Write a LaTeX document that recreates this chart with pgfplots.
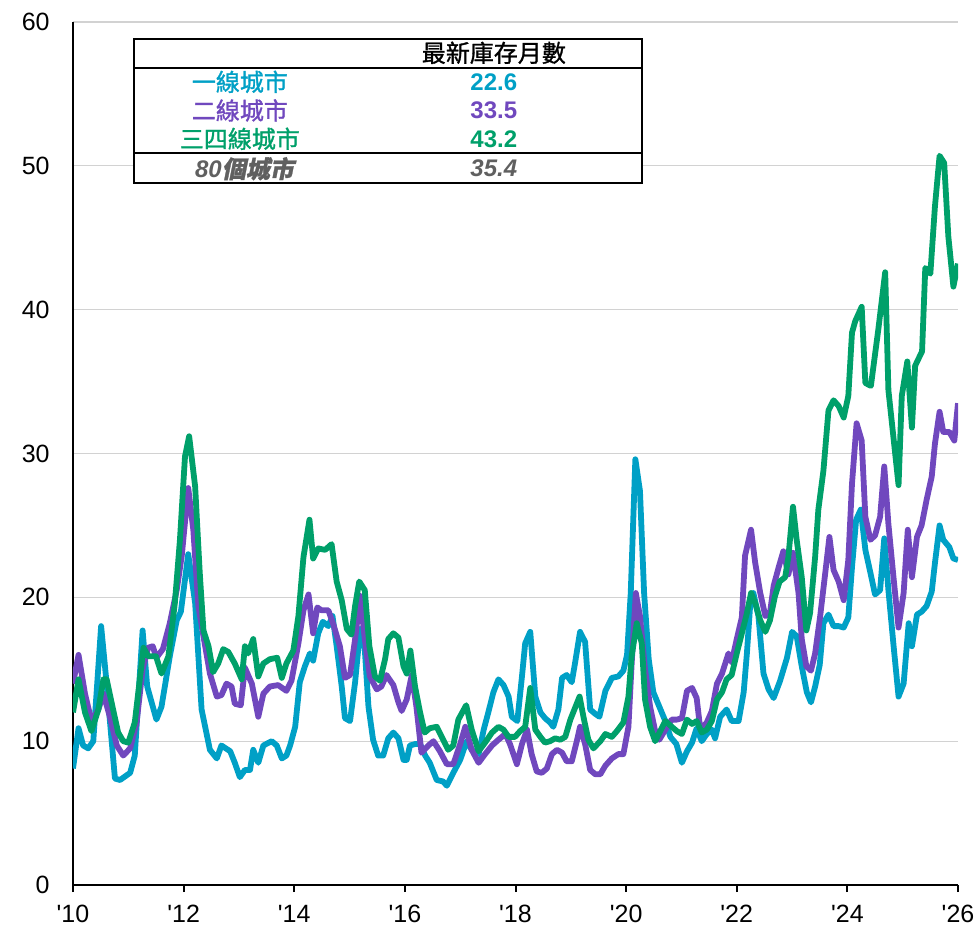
\documentclass[border=0pt]{standalone}
\usepackage{pgfplots}
\pgfplotsset{compat=1.18}
\usepackage{fontspec}
\setmainfont{Liberation Sans}[Ligatures=TeXOff]
\newfontfamily\cjk{Noto Sans CJK TC}[FakeBold=1.2]
\newfontfamily\cjkit{Noto Sans CJK TC}[FakeSlant=0.2, FakeBold=1.2]

\definecolor{c1}{HTML}{00A0C6}
\definecolor{c2}{HTML}{7048BE}
\definecolor{c3}{HTML}{00A06A}
\definecolor{gtxt}{HTML}{606060}

\begin{document}
\fontsize{12}{14}\selectfont
\begin{tikzpicture}
\begin{axis}[
    scale only axis,
    width=442.5pt, height=431.5pt,
    xmin=0, xmax=192, ymin=0, ymax=60,
    axis x line=bottom, axis y line=left,
    axis line style={-, line width=1pt, black},
    xtick={0,24,...,192},
    xticklabels={'10,'12,'14,'16,'18,'20,'22,'24,'26},
    ytick={0,10,...,60},
    tick align=outside,
    major tick length=3.5pt,
    xtick style={line width=1pt, black},
    ytick style={draw=none},
    ymajorgrids,
    grid style={line width=0.6pt, gray!35},
    tick label style={font=\fontsize{12.5}{14}\selectfont},
    /pgf/number format/assume math mode=true,
    yticklabel style={xshift=-4pt},
    xticklabel style={yshift=-2.5pt},
    every axis plot/.append style={line width=2.9pt, line join=round, no markers},
]
% 一線城市
\addplot[c1] coordinates {(0,8.1)(1.2,10.9)(2.2,9.7)(3.3,9.5)(4.4,10.0)(6.1,18.0)(7.3,14.0)(9.1,7.4)(10.2,7.3)(12.4,7.8)(13.4,9.0)(15.1,17.7)(16.1,13.8)(18.1,11.5)(19.2,12.4)(21.0,15.9)(22.5,18.4)(23.4,19.0)(25.0,23.0)(26.5,19.6)(27.9,12.2)(29.7,9.4)(31.2,8.8)(32.2,9.7)(34.1,9.3)(35.1,8.5)(36.2,7.5)(37.3,8.0)(38.4,8.0)(39.1,9.4)(40.2,8.5)(41.3,9.7)(43.1,10.0)(44.2,9.7)(45.3,8.8)(46.3,9.0)(47.1,9.7)(48.2,11.0)(49.2,14.1)(50.3,15.2)(51.4,16.1)(52.1,15.6)(53.2,17.5)(54.2,18.3)(55.4,18.0)(56.3,18.7)(57.2,16.6)(58.3,13.8)(59.0,11.6)(60.1,11.4)(61.2,14.1)(62.3,17.8)(63.3,16.4)(64.1,12.4)(65.1,10.1)(66.2,9.0)(67.3,9.0)(68.4,10.2)(69.5,10.6)(70.6,10.2)(71.7,8.7)(72.4,8.7)(73.1,9.7)(74.2,9.8)(75.3,9.8)(76.4,9.0)(77.4,8.5)(78.9,7.3)(80.3,7.2)(81.1,6.9)(82.5,7.8)(84.0,8.7)(85.4,10.0)(86.5,9.4)(88.0,9.1)(89.1,10.8)(90.1,12.0)(91.2,13.4)(92.3,14.3)(93.4,13.9)(94.5,13.1)(95.2,11.7)(96.4,11.4)(97.4,14.5)(98.1,16.8)(99.2,17.6)(100.3,13.1)(101.4,12.0)(102.4,11.6)(103.5,11.3)(104.2,11.0)(105.3,12.2)(106.1,14.4)(107.1,14.6)(108.2,14.1)(108.9,15.4)(110.0,17.6)(111.1,16.9)(112.2,12.2)(113.3,11.9)(114.2,11.7)(115.5,13.5)(116.9,14.4)(118.3,14.5)(119.4,14.9)(120.2,16.0)(121.0,20.3)(122.0,29.6)(123.0,27.4)(123.9,20.3)(124.9,15.7)(125.9,13.4)(127.2,12.4)(128.5,11.4)(129.6,10.3)(130.9,9.8)(132.1,8.5)(133.2,9.3)(134.3,9.9)(135.3,10.9)(136.4,10.0)(137.5,10.5)(138.6,10.8)(139.3,10.2)(140.4,11.7)(141.8,12.2)(142.9,11.4)(144.4,11.4)(145.5,13.4)(146.2,16.1)(146.9,19.4)(147.6,20.3)(148.7,18.7)(149.8,14.7)(150.9,13.6)(152.0,13.0)(153.4,14.2)(154.9,15.8)(156.0,17.6)(157.0,17.3)(158.1,15.2)(159.2,13.4)(160.1,12.7)(161.0,13.8)(162.0,15.3)(162.8,18.2)(163.9,18.8)(165.0,18.0)(166.1,18.0)(167.2,17.9)(168.2,18.6)(169.0,22.1)(169.9,25.4)(170.9,26.1)(171.9,23.3)(173.0,21.7)(174.0,20.2)(175.1,20.5)(176.0,24.1)(176.9,20.5)(178.0,16.7)(179.1,13.1)(180.2,14.0)(181.3,18.2)(182.0,16.6)(183.1,18.8)(184.1,19.0)(185.2,19.4)(186.3,20.4)(187.0,22.4)(188.0,25.0)(188.8,24.0)(190.1,23.5)(191.0,22.7)(192,22.6)};
% 二線城市
\addplot[c2] coordinates {(0,14.0)(1.2,16.0)(2.6,13.3)(4.0,11.4)(5.5,12.2)(6.6,13.3)(8.0,11.7)(9.5,9.7)(10.9,9.0)(12.4,9.5)(13.8,11.3)(15.1,15.0)(16.3,16.5)(17.3,16.6)(18.1,15.8)(19.5,16.4)(21.0,18.2)(22.5,20.5)(23.6,22.9)(25.0,27.6)(26.1,24.7)(27.2,19.4)(28.3,17.3)(29.7,14.7)(31.2,13.1)(32.2,13.2)(33.3,14.0)(34.4,13.8)(35.1,12.6)(36.4,12.5)(37.3,15.1)(38.8,14.0)(40.2,11.7)(41.3,13.3)(42.7,13.8)(44.5,13.9)(46.3,13.5)(47.4,14.2)(48.9,16.8)(50.0,19.1)(51.1,20.2)(52.1,17.5)(53.0,19.3)(53.9,19.1)(55.4,19.1)(56.5,18.1)(57.9,16.6)(59.0,14.4)(60.1,14.6)(61.2,17.1)(62.3,20.1)(63.3,17.1)(64.4,14.5)(65.9,13.6)(66.9,13.8)(68.0,14.6)(69.5,13.9)(70.6,12.7)(71.3,12.1)(72.4,12.9)(73.5,14.6)(74.5,12.4)(75.6,9.2)(77.1,9.7)(78.2,10.0)(79.6,9.3)(81.1,8.4)(82.5,8.4)(84.0,9.8)(85.1,11.0)(86.5,9.4)(88.0,8.5)(89.4,9.1)(90.9,9.7)(92.3,10.1)(93.8,10.5)(94.8,9.8)(96.3,8.4)(97.4,9.8)(98.5,10.8)(99.5,9.1)(100.6,7.9)(101.7,7.8)(102.8,8.1)(103.9,9.1)(105.0,9.4)(106.1,9.2)(107.1,8.6)(108.2,8.6)(109.3,10.0)(110.0,11.0)(111.1,9.8)(112.2,8.0)(113.3,7.7)(114.4,7.7)(115.5,8.3)(116.9,8.8)(118.3,9.1)(119.4,9.1)(120.5,11.0)(121.2,15.4)(122.1,20.3)(123.0,18.7)(124.1,15.0)(125.2,12.4)(126.3,10.7)(127.2,10.1)(128.5,10.8)(129.9,11.5)(131.0,11.5)(132.1,11.6)(133.2,13.5)(134.3,13.7)(135.3,13.0)(136.1,10.8)(137.5,11.3)(138.6,12.1)(139.7,14.0)(140.8,14.7)(142.2,16.1)(142.9,15.5)(144.0,17.1)(145.1,18.6)(145.8,22.9)(147.1,24.7)(148.0,22.4)(149.1,20.3)(150.2,18.7)(151.2,18.9)(152.0,20.8)(153.1,22.1)(154.1,23.2)(155.2,21.6)(156.2,23.1)(157.4,20.3)(158.1,17.1)(159.1,15.2)(160.1,14.9)(161.0,16.1)(162.1,18.7)(163.2,21.7)(164.1,24.2)(165.0,21.9)(166.1,21.1)(167.2,19.8)(168.2,22.6)(169.0,27.9)(170.0,32.1)(171.1,30.9)(171.9,25.6)(173.0,24.0)(174.0,24.3)(175.1,25.6)(176.0,29.1)(176.9,25.1)(178.0,21.4)(179.1,17.9)(180.2,20.3)(181.1,24.7)(182.0,21.4)(183.1,24.2)(184.1,25.0)(185.2,26.8)(186.3,28.4)(187.0,30.7)(188.0,32.9)(188.8,31.5)(190.1,31.5)(191.2,30.9)(192,33.5)};
% 三四線城市
\addplot[c3] coordinates {(0,12.0)(1.2,14.3)(2.6,12.0)(4.0,10.7)(5.5,12.2)(6.6,14.3)(7.3,14.3)(8.7,12.2)(9.8,10.6)(10.9,10.0)(12.0,9.9)(13.4,11.3)(15.3,16.5)(16.3,15.9)(18.0,15.9)(19.2,14.7)(20.7,15.9)(22.1,19.6)(23.2,24.0)(24.3,29.8)(25.2,31.2)(26.5,27.7)(27.5,21.7)(28.3,17.7)(29.4,16.6)(30.4,14.8)(31.5,15.4)(32.6,16.4)(33.7,16.2)(35.1,15.4)(36.6,14.3)(37.3,16.6)(38.0,16.1)(39.1,17.1)(40.2,14.5)(41.3,15.4)(42.7,15.7)(44.3,15.8)(45.3,14.4)(46.3,15.4)(47.8,16.3)(48.9,18.7)(50.0,22.8)(51.3,25.4)(52.1,22.7)(53.2,23.4)(54.7,23.3)(56.1,23.7)(57.2,21.1)(58.3,19.8)(59.4,17.8)(60.4,17.4)(61.2,19.4)(62.1,21.1)(63.3,20.5)(64.3,16.6)(65.5,14.5)(66.6,14.2)(67.7,15.7)(68.4,17.1)(69.5,17.5)(70.6,17.2)(71.7,15.2)(72.4,14.7)(73.2,16.3)(74.2,13.8)(75.3,12.0)(76.3,10.6)(77.4,10.9)(78.9,11.0)(80.0,10.3)(81.4,9.4)(82.5,9.7)(83.6,11.5)(85.3,12.5)(86.5,10.8)(88.0,9.3)(89.4,9.9)(90.9,10.6)(92.3,11.0)(93.4,10.8)(94.5,10.3)(95.9,10.3)(97.0,10.7)(98.1,11.0)(99.2,13.7)(100.3,10.8)(101.4,10.3)(102.4,9.9)(103.5,10.0)(104.6,10.2)(105.7,10.1)(106.8,10.3)(107.9,11.5)(108.9,12.3)(109.9,13.1)(110.8,11.6)(111.8,10.1)(112.9,9.5)(114.4,10.0)(115.5,10.5)(116.9,10.3)(118.0,10.7)(119.4,11.3)(120.5,13.1)(121.2,15.9)(122.3,18.2)(123.4,16.8)(124.1,12.9)(125.2,11.0)(126.3,10.0)(127.4,10.7)(128.5,11.4)(129.9,11.0)(131.0,10.7)(132.1,10.5)(133.2,11.5)(134.3,11.2)(135.3,11.4)(136.4,10.6)(137.5,10.8)(138.6,11.4)(139.7,12.9)(140.8,13.4)(141.8,14.3)(142.9,14.6)(144.0,16.1)(145.1,17.5)(146.2,18.9)(147.1,20.3)(148.0,19.6)(149.1,18.4)(150.2,17.6)(151.2,18.4)(152.3,20.1)(153.3,21.1)(154.5,21.4)(155.2,22.8)(156.2,26.3)(157.0,24.0)(158.1,21.4)(159.1,17.7)(159.9,18.9)(161.0,22.8)(161.7,26.1)(162.8,28.8)(163.9,33.0)(165.0,33.7)(166.1,33.3)(167.2,32.5)(168.2,34.0)(169.0,38.4)(169.7,39.2)(171.1,40.2)(171.9,34.9)(173.1,34.7)(174.7,38.6)(176.2,42.6)(176.9,34.4)(179.1,27.8)(179.8,34.0)(181.0,36.4)(182.0,31.8)(182.7,36.1)(184.2,37.1)(184.9,42.9)(186.0,42.5)(187.0,47.2)(188.0,50.7)(189.0,50.2)(189.9,45.1)(191.0,41.6)(192,43.2)};

% summary table
\draw[line width=1pt, fill=white] (axis cs:13.2,48.8) rectangle (axis cs:123.4,58.83);
\draw[line width=1pt] (axis cs:13.2,56.82) -- (axis cs:123.4,56.82);
\draw[line width=1pt] (axis cs:13.2,50.87) -- (axis cs:123.4,50.87);
\node at (axis cs:91.3,57.86) {\cjk 最新庫存月數};
\node[c1] at (axis cs:36.2,55.84) {\cjk 一線城市};
\node[c2] at (axis cs:36.2,53.85) {\cjk 二線城市};
\node[c3] at (axis cs:36.2,51.88) {\cjk 三四線城市};
\node[gtxt] at (axis cs:37.2,49.80) {\bfseries\itshape 80\cjkit 個城市};
\node[c1] at (axis cs:91.3,55.84) {\bfseries 22.6};
\node[c2] at (axis cs:91.3,53.85) {\bfseries 33.5};
\node[c3] at (axis cs:91.3,51.88) {\bfseries 43.2};
\node[gtxt] at (axis cs:91.3,49.80) {\bfseries\itshape 35.4};
\end{axis}
\pgfresetboundingbox
\useasboundingbox (-36.5pt,-21.5pt) rectangle (452.5pt,442.5pt);
\end{tikzpicture}
\end{document}
